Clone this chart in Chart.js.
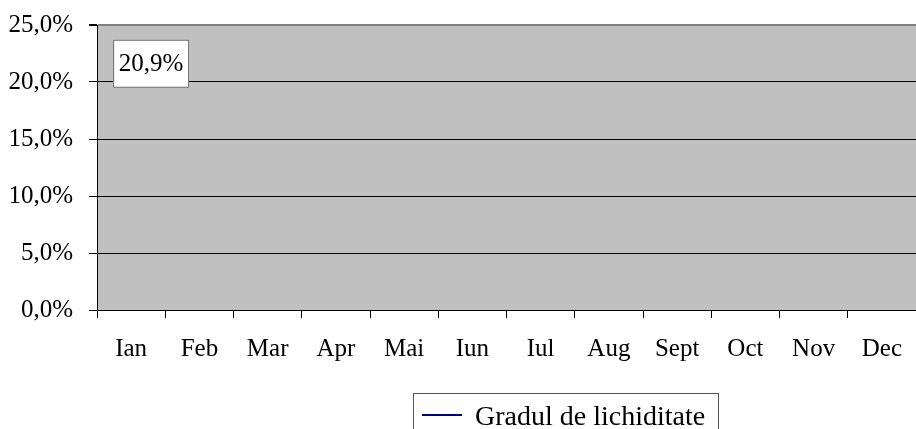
<!DOCTYPE html>
<html>
<head>
<meta charset="utf-8">
<script src="https://cdn.jsdelivr.net/npm/chart.js@4/dist/chart.umd.min.js"></script>
<style>
  html, body { margin: 0; padding: 0; background: #fff; }
</style>
</head>
<body>
<canvas id="chart" width="916" height="429"></canvas>
<script>
// chart data
const MONTHS = ['Ian', 'Feb', 'Mar', 'Apr', 'Mai', 'Iun', 'Iul', 'Aug', 'Sept', 'Oct', 'Nov', 'Dec'];
const LIQUIDITY = [20.9, null, null, null, null, null, null, null, null, null, null, null];
const SERIES_NAME = 'Gradul de lichiditate';
const Y_TICKS = [0, 5, 10, 15, 20, 25];

const FONT = '"Liberation Serif", "Times New Roman", serif';

function pct(v) {
  return v.toFixed(1).replace('.', ',') + '%';
}

// gray plot area
const plotBg = {
  id: 'plotBg',
  beforeDraw(chart) {
    const { ctx, chartArea: a } = chart;
    ctx.save();
    ctx.fillStyle = '#c0c0c0';
    ctx.fillRect(a.left, a.top, a.right - a.left, a.bottom - a.top);
    ctx.restore();
  }
};

// boxed data label next to the point
const valueLabel = {
  id: 'valueLabel',
  afterDatasetsDraw(chart) {
    const { ctx } = chart;
    const meta = chart.getDatasetMeta(0);
    meta.data.forEach((pt, i) => {
      const v = chart.data.datasets[0].data[i];
      if (v == null) return;
      const left = pt.x - 18, top = pt.y - 32, w = 76, h = 48;
      ctx.save();
      ctx.fillStyle = '#fff';
      ctx.fillRect(left, top, w, h);
      ctx.strokeStyle = '#666';
      ctx.lineWidth = 1;
      ctx.strokeRect(left + 0.5, top + 0.5, w - 1, h - 1);
      ctx.fillStyle = '#000';
      ctx.font = '25px ' + FONT;
      ctx.textAlign = 'center';
      ctx.textBaseline = 'middle';
      ctx.fillText(pct(v), left + w / 2, top + h / 2 + 1);
      ctx.restore();
    });
  }
};

// boxed legend at the bottom
const boxLegend = {
  id: 'boxLegend',
  afterDraw(chart) {
    const { ctx } = chart;
    const ds = chart.data.datasets[0];
    ctx.save();
    ctx.strokeStyle = '#555';
    ctx.lineWidth = 1;
    ctx.strokeRect(413.5, 393.5, 305, 45);
    ctx.strokeStyle = ds.borderColor;
    ctx.lineWidth = 2;
    ctx.beginPath();
    ctx.moveTo(422, 415);
    ctx.lineTo(462, 415);
    ctx.stroke();
    ctx.fillStyle = '#000';
    ctx.font = '28px ' + FONT;
    ctx.textBaseline = 'alphabetic';
    ctx.fillText(ds.label, 475, 425);
    ctx.restore();
  }
};

new Chart(document.getElementById('chart'), {
  type: 'line',
  data: {
    labels: MONTHS,
    datasets: [{
      label: SERIES_NAME,
      data: LIQUIDITY,
      borderColor: '#000080',
      backgroundColor: '#000080',
      borderWidth: 2,
      pointRadius: 0,
      spanGaps: false
    }]
  },
  options: {
    responsive: false,
    animation: false,
    layout: { padding: { top: 25, right: 0, left: 0, bottom: 0 } },
    plugins: {
      legend: { display: false },
      tooltip: { enabled: false }
    },
    scales: {
      x: {
        offset: true,
        grid: {
          offset: true,
          drawOnChartArea: false,
          drawTicks: true,
          tickLength: 8,
          color: '#000'
        },
        border: { color: '#000', width: 1 },
        ticks: {
          color: '#000',
          font: { family: FONT, size: 25 },
          padding: 16,
          maxRotation: 0,
          autoSkip: false
        },
        afterFit(scale) {
          scale.height = 119;
          scale.paddingLeft = 0;
          scale.paddingRight = 0;
        }
      },
      y: {
        min: 0,
        max: 25,
        afterBuildTicks(scale) {
          scale.ticks = Y_TICKS.map(v => ({ value: v }));
        },
        grid: {
          color: ctx => (ctx.tick && ctx.tick.value === 25 ? '#808080' : '#000'),
          lineWidth: ctx => (ctx.tick && ctx.tick.value === 25 ? 2 : 1),
          tickLength: 8,
          tickColor: '#000'
        },
        border: { color: '#000', width: 1 },
        ticks: {
          color: '#000',
          font: { family: FONT, size: 25 },
          padding: 16,
          callback: v => pct(v)
        },
        afterFit(scale) {
          scale.width = 97;
          scale.paddingTop = 0;
          scale.paddingBottom = 0;
        }
      }
    }
  },
  plugins: [plotBg, valueLabel, boxLegend]
});
</script>
</body>
</html>
